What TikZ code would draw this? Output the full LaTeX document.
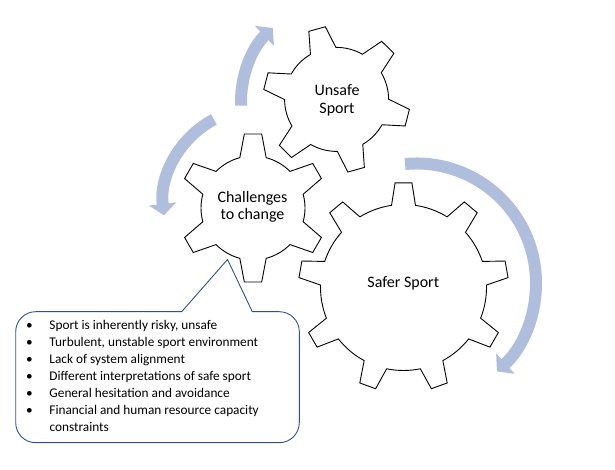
\documentclass[tikz,border=0pt]{standalone}
\usepackage{fontspec}
\setmainfont{Carlito}
\usetikzlibrary{arrows.meta}
\definecolor{arrowblue}{RGB}{176,190,222}
\definecolor{calloutblue}{RGB}{47,82,143}

\begin{document}
\begin{tikzpicture}
	[x=1pt,y=1pt,
	gear/.style={draw=black,fill=white,line width=0.9pt,line join=miter},
	lbl/.style={font=\fontsize{16}{17.7}\selectfont,align=center,inner sep=0pt},
	turn/.style={draw=arrowblue,line width=12pt,-{Triangle[width=27pt,length=11.5pt]}},
	callout/.style={draw=calloutblue,fill=white,line width=0.9pt}]

	\useasboundingbox (0,0) rectangle (615,470);

	% turning arrows
	\draw[turn] (343,368) ++(182:102) arc[start angle=182,end angle=133.5,radius=102];
	\draw[turn] (258.7,266.3) ++(118:95.4) arc[start angle=118,end angle=187,radius=95.4];
	\draw[turn] (416.5,187) ++(95.5:119.5) arc[start angle=95.5,end angle=-47.7,radius=119.5];

	% gears
	\draw[gear,shift={(336.6,370.6)}] ({105.5-14.7}:52)
		\foreach \a in {105.5,165.5,...,405.5} {
			-- ({\a-6.7}:73.5) -- ({\a+6.7}:73.5) -- ({\a+14.7}:52)
			arc[start angle=\a+14.7,end angle=\a+45.3,radius=52]
		} -- cycle;

	\draw[gear,shift={(253,262)}] ({90-14.7}:52)
		\foreach \a in {90,150,...,390} {
			-- ({\a-6.7}:74.5) -- ({\a+6.7}:74.5) -- ({\a+14.7}:52)
			arc[start angle=\a+14.7,end angle=\a+45.3,radius=52]
		} -- cycle;

	\draw[gear,shift={(403.5,182.5)}] ({90-8.3}:83)
		\foreach \a in {90,130,...,410} {
			-- ({\a-4.6}:105) -- ({\a+4.6}:105) -- ({\a+8.3}:83)
			arc[start angle=\a+8.3,end angle=\a+31.7,radius=83]
		} -- cycle;

	\node[lbl] (unsafe) at (337,370) {Unsafe\\Sport};
	\node[lbl] (challenges) at (252.5,263.3) {Challenges\\to change};
	\node[lbl] (safer) at (403.3,186.5) {Safer Sport};

	% callout
	\draw[callout] (181.7,158.3) -- (227.5,210.5) -- (252.3,158.3) -- (279.3,158.3)
		arc[start angle=90,end angle=0,radius=20] -- (299.3,47.3)
		arc[start angle=0,end angle=-90,radius=20] -- (35.7,27.3)
		arc[start angle=270,end angle=180,radius=20] -- (15.7,138.3)
		arc[start angle=180,end angle=90,radius=20] -- cycle;

	\node[anchor=base west,inner sep=0pt,font=\fontsize{13.3}{17}\selectfont] (notes) at (26,140)
		{\begin{tabular}[t]{@{}p{23.3pt}@{}l@{}}
		\textbullet & Sport is inherently risky, unsafe\\
		\textbullet & Turbulent, unstable sport environment\\
		\textbullet & Lack of system alignment\\
		\textbullet & Different interpretations of safe sport\\
		\textbullet & General hesitation and avoidance\\
		\textbullet & Financial and human resource capacity\\
		 & constraints
		\end{tabular}};

\end{tikzpicture}
\end{document}
